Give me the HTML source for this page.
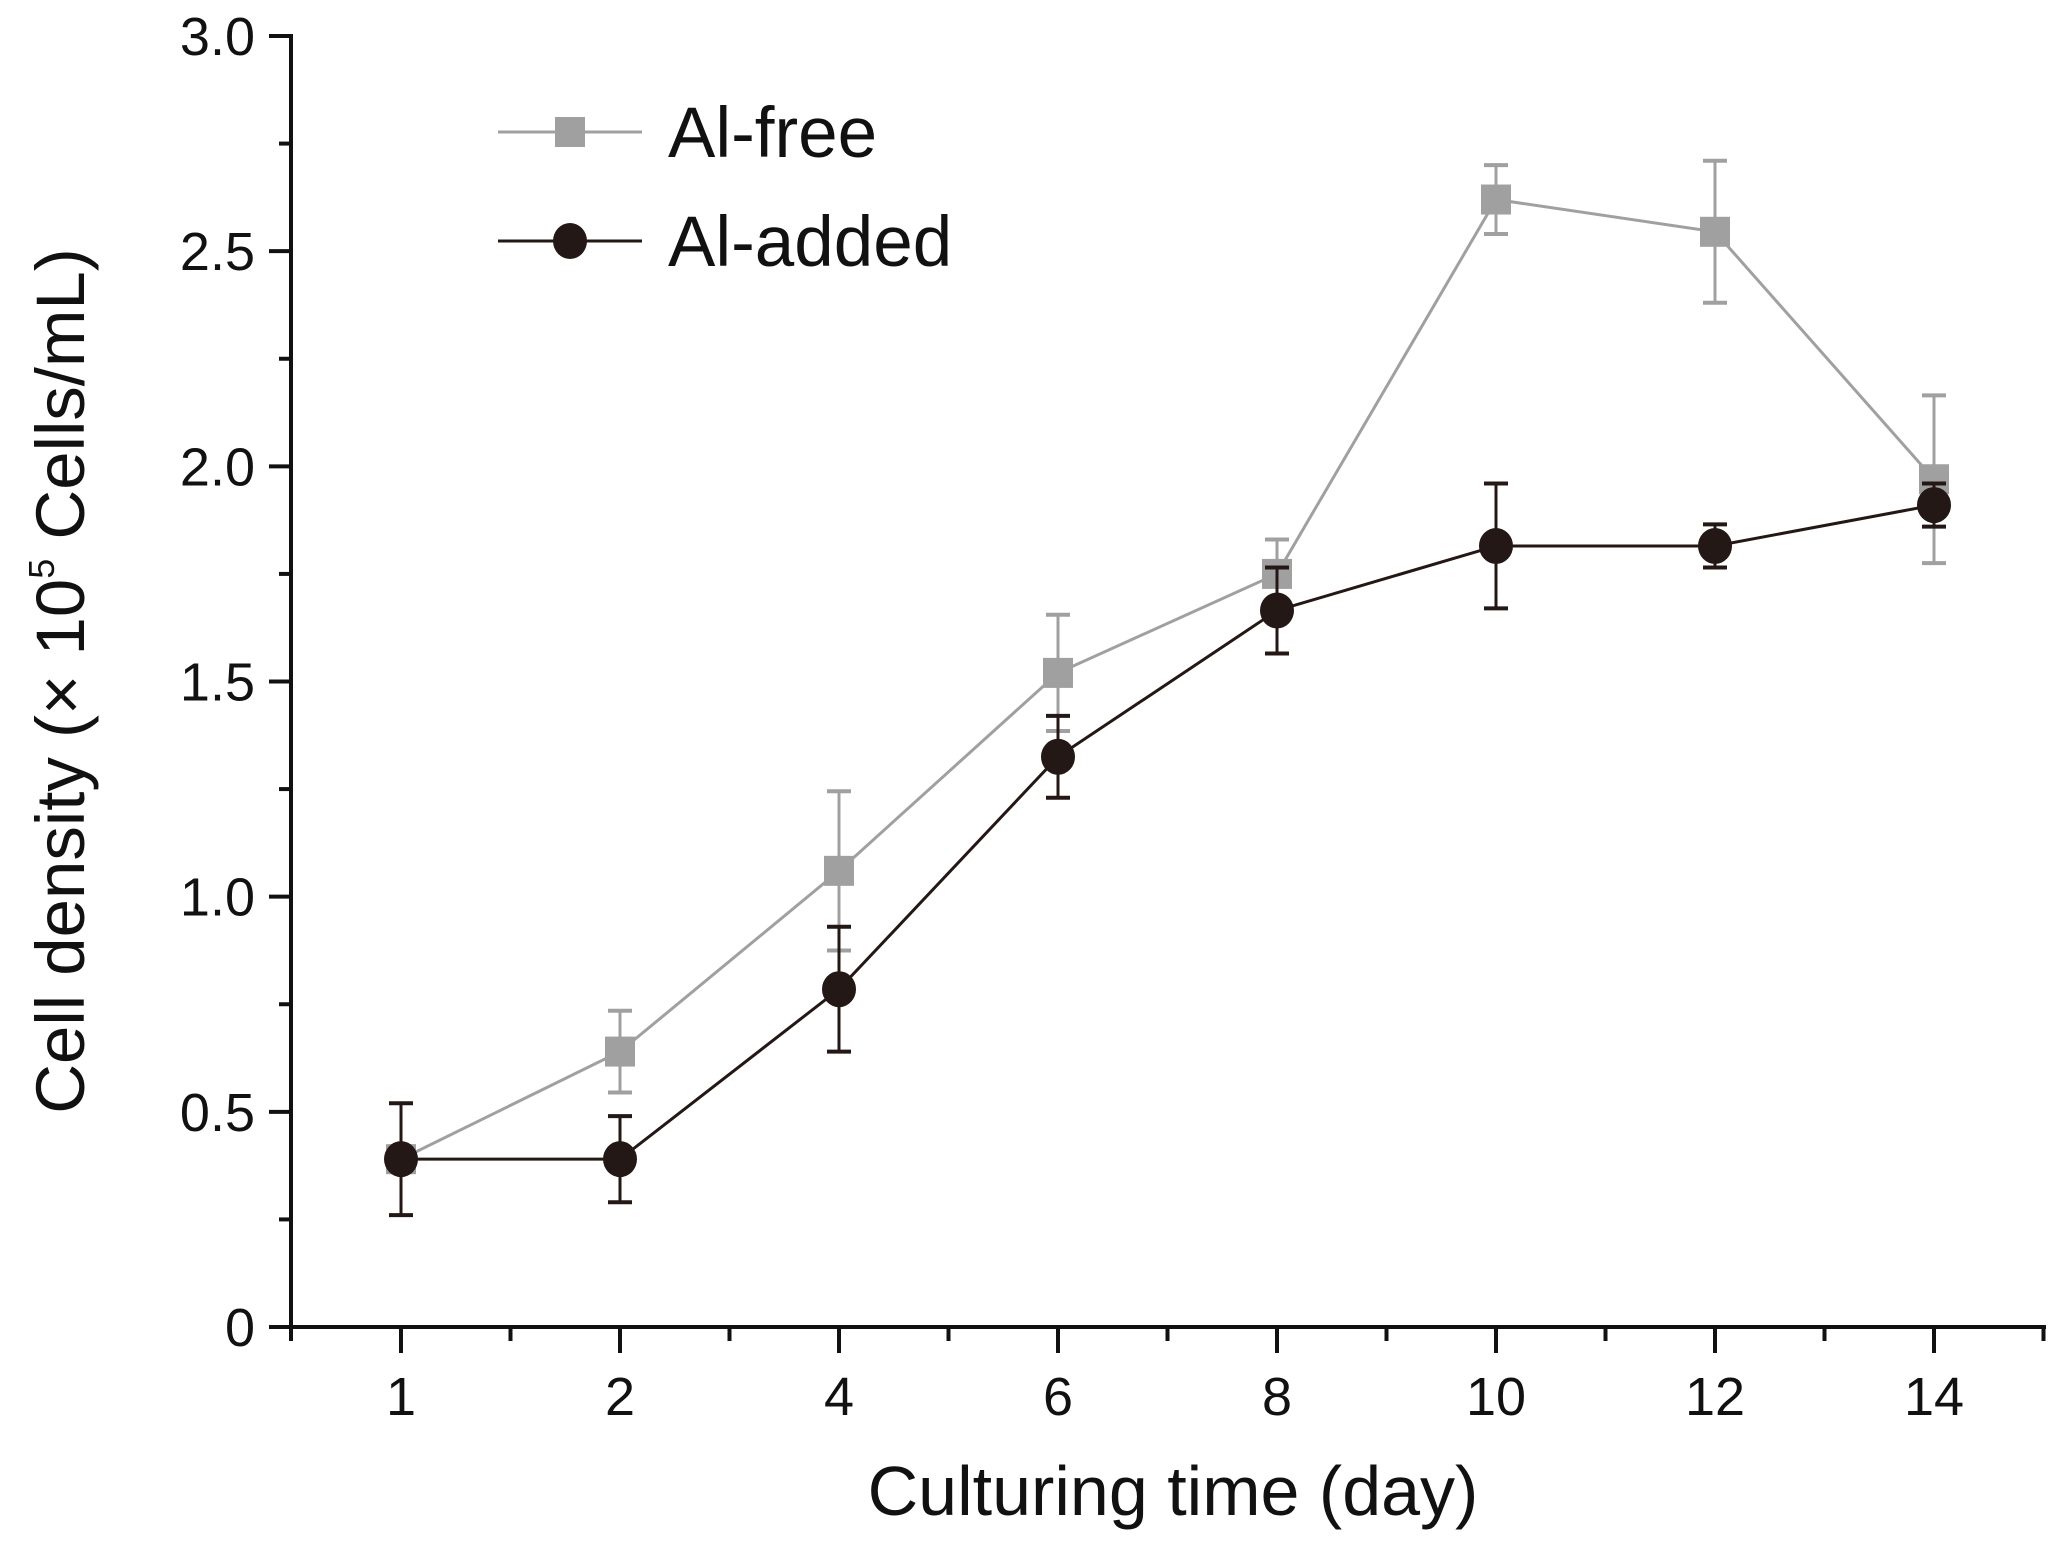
<!DOCTYPE html>
<html><head><meta charset="utf-8"><style>
html,body{margin:0;padding:0;background:#fff;}
svg{display:block;font-family:"Liberation Sans",Arial,sans-serif;}
</style></head><body>
<svg id="chart" width="2067" height="1548" viewBox="0 0 2067 1548"></svg>
<script>
const categories = ["1","2","4","6","8","10","12","14"];
const freeValues = [0.39, 0.64, 1.06, 1.52, 1.75, 2.62, 2.545, 1.97];
const freeErrors = [0.03, 0.095, 0.185, 0.135, 0.08, 0.08, 0.165, 0.195];
const addedValues = [0.39, 0.39, 0.785, 1.325, 1.665, 1.815, 1.815, 1.91];
const addedErrors = [0.13, 0.10, 0.145, 0.095, 0.10, 0.145, 0.05, 0.05];
const yTicks = [0, 0.5, 1.0, 1.5, 2.0, 2.5, 3.0];
const yTickLabels = ["0","0.5","1.0","1.5","2.0","2.5","3.0"];

const NS = "http://www.w3.org/2000/svg";
const svg = document.getElementById("chart");
const X0 = 291, X1 = 2046, Y0 = 1327, Y3 = 36;
const catStep = 219, cat0 = 401;
function xPos(i){ return cat0 + i*catStep; }
function yPos(v){ return Y0 - (v/3)*(Y0-Y3); }
function mk(tag, attrs, parent){
  const e = document.createElementNS(NS, tag);
  for (const k in attrs) e.setAttribute(k, attrs[k]);
  (parent||svg).appendChild(e);
  return e;
}
const AX = "#111";
const yAxis = mk("line",{x1:X0,y1:Y3-2,x2:X0,y2:Y0+2,stroke:AX,"stroke-width":4});


const xAxis = mk("line",{x1:X0-22,y1:Y0,x2:X1,y2:Y0,stroke:AX,"stroke-width":4});


yTicks.forEach((v,i)=>{
  const y = yPos(v);
  mk("line",{x1:X0-22,y1:y,x2:X0,y2:y,stroke:AX,"stroke-width":4});
  if (i < yTicks.length-1){
    const ym = yPos(v+0.25);
    mk("line",{x1:X0-12,y1:ym,x2:X0,y2:ym,stroke:AX,"stroke-width":4});
  }
  const t = mk("text",{x:X0-36,y:y+19,"text-anchor":"end","font-size":54,fill:"#111"});
  t.textContent = yTickLabels[i];
  
  
});
mk("line",{x1:X0,y1:Y0,x2:X0,y2:Y0+14,stroke:AX,"stroke-width":4});
categories.forEach((c,i)=>{
  const x = xPos(i);
  mk("line",{x1:x,y1:Y0,x2:x,y2:Y0+26,stroke:AX,"stroke-width":4});
  mk("line",{x1:x+catStep/2,y1:Y0,x2:x+catStep/2,y2:Y0+14,stroke:AX,"stroke-width":4});
  const t = mk("text",{x:x,y:Y0+88,"text-anchor":"middle","font-size":54,fill:"#111"});
  t.textContent = c;
  
  
});
const xt = mk("text",{x:1173,y:1515,"text-anchor":"middle","font-size":70,fill:"#111"});
xt.textContent = "Culturing time (day)";


const yt = mk("text",{x:0,y:0,"text-anchor":"middle","font-size":69,fill:"#111",transform:"translate(84,681) rotate(-90)"});
yt.innerHTML = 'Cell density (× 10<tspan font-size="36" dy="-30">5</tspan><tspan dy="30"> Cells/mL)</tspan>';



function series(vals, errs, color, shape, name){
  const g = mk("g",{});
  
  
  const pts = vals.map((v,i)=>xPos(i)+","+yPos(v)).join(" ");
  mk("polyline",{points:pts,fill:"none",stroke:color,"stroke-width":3},g);
  vals.forEach((v,i)=>{
    const x = xPos(i), yt = yPos(v+errs[i]), yb = yPos(v-errs[i]);
    const eb = mk("g",{},g);
    
    
    mk("line",{x1:x,y1:yt,x2:x,y2:yb,stroke:color,"stroke-width":3},eb);
    mk("line",{x1:x-12,y1:yt,x2:x+12,y2:yt,stroke:color,"stroke-width":4},eb);
    mk("line",{x1:x-12,y1:yb,x2:x+12,y2:yb,stroke:color,"stroke-width":4},eb);
  });
  vals.forEach((v,i)=>{
    const x = xPos(i), y = yPos(v);
    let m;
    if (shape==="square") m = mk("rect",{x:x-15,y:y-15,width:30,height:30,fill:color},g);
    else m = mk("ellipse",{cx:x,cy:y,rx:17,ry:18,fill:color},g);
    
    
  });
}
series(freeValues, freeErrors, "#a0a0a0", "square", "series-al-free");
series(addedValues, addedErrors, "#231815", "circle", "series-al-added");

const lg = mk("g",{});


const l1 = mk("g",{},lg);


mk("line",{x1:498,y1:132,x2:642,y2:132,stroke:"#a0a0a0","stroke-width":3},l1);
mk("rect",{x:555,y:117,width:30,height:30,fill:"#a0a0a0"},l1);
const t1 = mk("text",{x:668,y:157,"font-size":71,fill:"#111"},l1);
t1.textContent = "Al-free";
const l2 = mk("g",{},lg);


mk("line",{x1:498,y1:241,x2:642,y2:241,stroke:"#231815","stroke-width":3},l2);
mk("ellipse",{cx:570,cy:241,rx:17,ry:18,fill:"#231815"},l2);
const t2 = mk("text",{x:668,y:266,"font-size":71,fill:"#111"},l2);
t2.textContent = "Al-added";
</script>
</body></html>
